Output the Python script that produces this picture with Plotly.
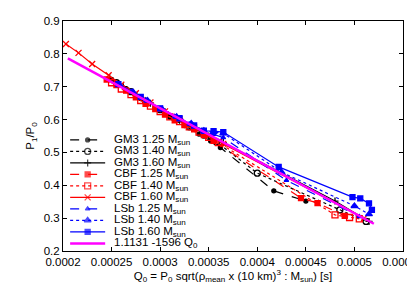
import plotly.graph_objects as go

# ---- data ----
gm3_125_x = [0.000250, 0.000265, 0.000280, 0.000295, 0.000310, 0.000325, 0.000340, 0.000352, 0.000362, 0.000417, 0.000450]
gm3_125_y = [0.722, 0.694, 0.664, 0.636, 0.607, 0.582, 0.556, 0.535, 0.515, 0.383, 0.352]

gm3_140_x = [0.000255, 0.000270, 0.000285, 0.000300, 0.000315, 0.000330, 0.000345, 0.000358, 0.000400, 0.000485, 0.000512]
gm3_140_y = [0.712, 0.685, 0.656, 0.630, 0.604, 0.578, 0.553, 0.532, 0.437, 0.325, 0.290]

gm3_160_x = [0.000248, 0.000262, 0.000276, 0.000290, 0.000305, 0.000320, 0.000335, 0.000350, 0.000365, 0.000480, 0.000515]
gm3_160_y = [0.727, 0.700, 0.674, 0.650, 0.624, 0.598, 0.574, 0.550, 0.530, 0.352, 0.290]

cbf_125_x = [0.000245, 0.000255, 0.000265, 0.000275, 0.000285, 0.000295, 0.000305, 0.000315, 0.000325, 0.000335, 0.000345, 0.000355, 0.000445, 0.000462, 0.000490]
cbf_125_y = [0.722, 0.705, 0.688, 0.668, 0.648, 0.632, 0.615, 0.598, 0.583, 0.570, 0.553, 0.535, 0.361, 0.346, 0.307]

cbf_140_x = [0.000250, 0.000260, 0.000270, 0.000280, 0.000290, 0.000300, 0.000310, 0.000320, 0.000330, 0.000340, 0.000350, 0.000360, 0.000480, 0.000495, 0.000505]
cbf_140_y = [0.712, 0.693, 0.676, 0.658, 0.641, 0.624, 0.608, 0.594, 0.578, 0.562, 0.546, 0.530, 0.310, 0.302, 0.298]

cbf_160_x = [0.000203, 0.000216, 0.000230, 0.000247, 0.000260, 0.000275, 0.000290, 0.000305, 0.000320, 0.000335, 0.000350, 0.000365, 0.000510]
cbf_160_y = [0.830, 0.803, 0.769, 0.735, 0.706, 0.680, 0.652, 0.625, 0.600, 0.576, 0.551, 0.526, 0.300]

lsb_125_x = [0.000258, 0.000270, 0.000285, 0.000300, 0.000315, 0.000330, 0.000345, 0.000355, 0.000365, 0.000430, 0.000505]
lsb_125_y = [0.705, 0.686, 0.660, 0.634, 0.610, 0.586, 0.562, 0.555, 0.545, 0.415, 0.305]

lsb_140_x = [0.000258, 0.000272, 0.000287, 0.000302, 0.000317, 0.000332, 0.000345, 0.000355, 0.000365, 0.000425, 0.000500, 0.000515]
lsb_140_y = [0.706, 0.684, 0.658, 0.632, 0.608, 0.588, 0.566, 0.562, 0.558, 0.440, 0.337, 0.312]

lsb_160_x = [0.000257, 0.000280, 0.000300, 0.000320, 0.000335, 0.000345, 0.000355, 0.000365, 0.000422, 0.000498, 0.000506, 0.000515, 0.000518]
lsb_160_y = [0.708, 0.669, 0.634, 0.604, 0.582, 0.566, 0.565, 0.562, 0.456, 0.364, 0.360, 0.345, 0.325]

fit_x = [0.000205, 0.000520]
fit_y = [0.786, 0.283]

x_ticks = [0.0002, 0.00025, 0.0003, 0.00035, 0.0004, 0.00045, 0.0005, 0.00055]
x_tick_labels = ["0.0002", "0.00025", "0.0003", "0.00035", "0.0004", "0.00045", "0.0005", "0.00055"]
y_ticks = [0.2, 0.3, 0.4, 0.5, 0.6, 0.7, 0.8, 0.9]
y_tick_labels = ["0.2", "0.3", "0.4", "0.5", "0.6", "0.7", "0.8", "0.9"]

MS = " M<sub>sun</sub>"
series = [
    ("GM3 1.25" + MS, gm3_125_x, gm3_125_y, "black", "dash", "circle", 4),
    ("GM3 1.40" + MS, gm3_140_x, gm3_140_y, "black", "dot", "circle-open", 6),
    ("GM3 1.60" + MS, gm3_160_x, gm3_160_y, "black", "solid", "cross-thin-open", 5),
    ("CBF 1.25" + MS, cbf_125_x, cbf_125_y, "red", "dash", "square", 5),
    ("CBF 1.40" + MS, cbf_140_x, cbf_140_y, "red", "dot", "square-open", 6),
    ("CBF 1.60" + MS, cbf_160_x, cbf_160_y, "red", "solid", "x-thin-open", 6),
    ("LSb 1.25" + MS, lsb_125_x, lsb_125_y, "blue", "dash", "triangle-up", 4),
    ("LSb 1.40" + MS, lsb_140_x, lsb_140_y, "blue", "dot", "triangle-up", 6),
    ("LSb 1.60" + MS, lsb_160_x, lsb_160_y, "blue", "solid", "square", 5),
]
fit_name = "1.1131 -1596 Q<sub>0</sub>"
FIT_COLOR = "#ff00ff"
FONT = "Liberation Sans, Arial, sans-serif"
FS = 11.5

fig = go.Figure()
for name, xs, ys, col, dash, sym, size in series:
    fig.add_trace(go.Scatter(
        x=xs, y=ys, name=name, mode="lines+markers", showlegend=False,
        line=dict(color=col, width=1.2, dash=dash),
        marker=dict(symbol=sym, size=size, color=col, line=dict(color=col, width=1.3)),
    ))
fig.add_trace(go.Scatter(
    x=fit_x, y=fit_y, name=fit_name, mode="lines", showlegend=False,
    line=dict(color=FIT_COLOR, width=2.5),
))

# ---- compact gnuplot-style key drawn on an overlay axis (0..1 over the plot area) ----
KEY_X0, KEY_X1, KEY_TEXT_X = 0.021, 0.124, 0.145
KEY_TOP, KEY_STEP = 0.483, 0.050
key_entries = [(n, c, d, s, z) for n, _, _, c, d, s, z in series] + [(fit_name, FIT_COLOR, "solid", None, 0)]
annotations = []
for i, (name, col, dash, sym, size) in enumerate(key_entries):
    yk = KEY_TOP - i * KEY_STEP
    width = 2.5 if sym is None else 1.2
    fig.add_trace(go.Scatter(
        x=[KEY_X0, (KEY_X0 + KEY_X1) / 2, KEY_X1], y=[yk, yk, yk],
        xaxis="x2", yaxis="y2", mode="lines+markers" if sym else "lines",
        showlegend=False, hoverinfo="skip",
        line=dict(color=col, width=width, dash=dash),
        marker=dict(symbol=sym or "circle", size=[0, size, 0], color=col,
                    line=dict(color=col, width=1.3)),
    ))
    annotations.append(dict(
        x=KEY_TEXT_X, y=yk, xref="x2", yref="y2", text=name, showarrow=False,
        xanchor="left", yanchor="middle", font=dict(size=FS, color="black", family=FONT),
    ))

axis_common = dict(
    showline=True, linecolor="black", linewidth=1, mirror="ticks",
    ticks="inside", ticklen=4, tickcolor="black", showgrid=False, zeroline=False,
    tickfont=dict(size=FS, color="black"), automargin=False,
)

fig.update_layout(
    width=415, height=291,
    margin=dict(l=55, r=20, t=13, b=48),
    paper_bgcolor="white", plot_bgcolor="white",
    font=dict(family=FONT, size=FS, color="black"),
    showlegend=False,
    annotations=annotations,
    xaxis=dict(
        range=[0.0002, 0.00055], tickvals=x_ticks, ticktext=x_tick_labels,
        ticklabeloverflow="allow",
        title=dict(text="Q<sub>0</sub> = P<sub>0</sub> sqrt(ρ<sub>mean</sub> x (10 km)<sup>3</sup> : M<sub>sun</sub>) [s]",
                   font=dict(size=FS), standoff=4),
        **axis_common,
    ),
    yaxis=dict(
        range=[0.2, 0.9], tickvals=y_ticks, ticktext=y_tick_labels,
        title=dict(text="P<sub>1</sub>/P<sub>0</sub>", font=dict(size=FS), standoff=6),
        **axis_common,
    ),
    xaxis2=dict(overlaying="x", range=[0, 1], visible=False, fixedrange=True),
    yaxis2=dict(overlaying="y", range=[0, 1], visible=False, fixedrange=True),
)

fig.write_html("out.html")
